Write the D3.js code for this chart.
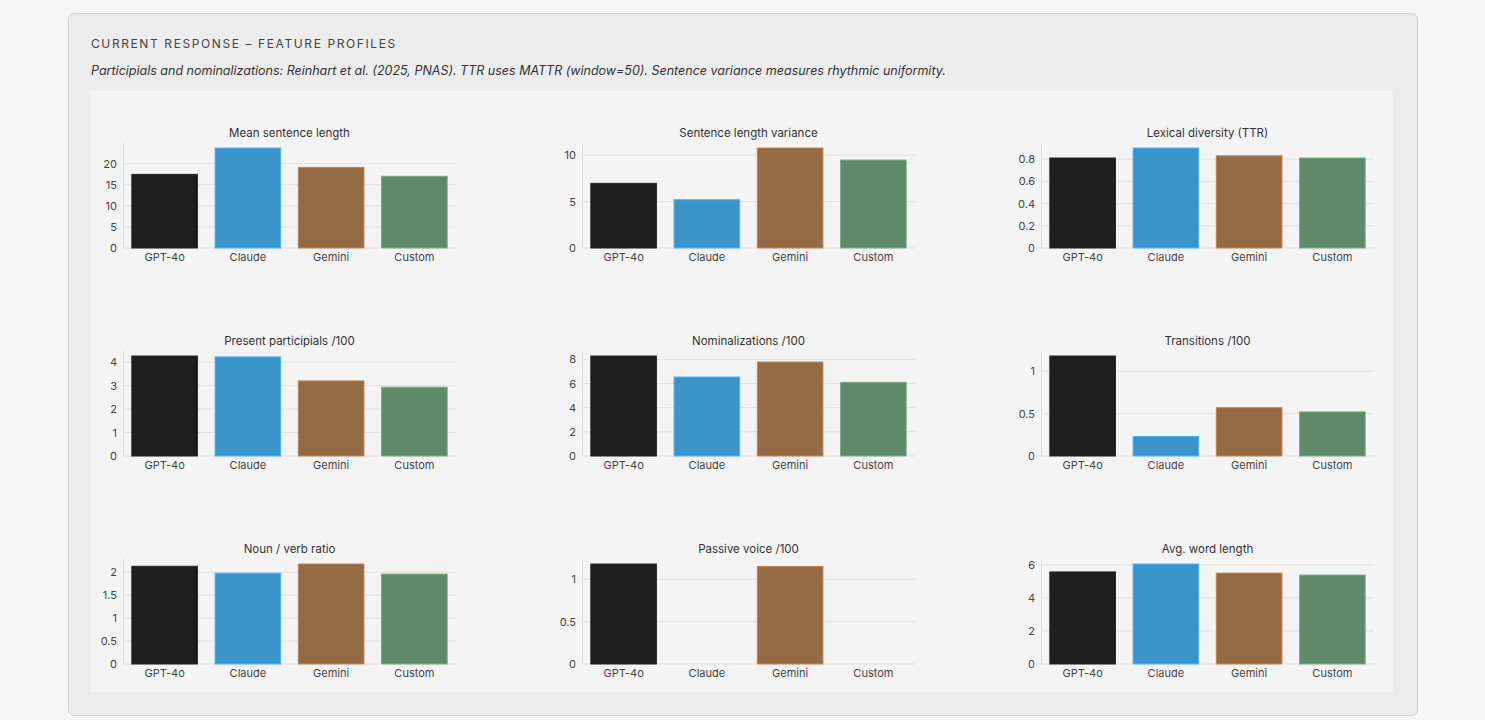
<!DOCTYPE html>
<html>
<head>
<meta charset="utf-8">
<script src="https://cdn.jsdelivr.net/npm/d3@7"></script>
<style>
  body { margin: 0; background: #f5f5f5; font-family: Inter, "Noto Sans", sans-serif; }
  svg text { font-family: Inter, "Noto Sans", sans-serif; }
</style>
</head>
<body>
<svg id="chart" width="1485" height="720"></svg>
<script>
const models = ["GPT-4o", "Claude", "Gemini", "Custom"];
const colors = ["#1e1e1e", "#3a93c9", "#966b43", "#5f8a69"];

const titles = [
  "Mean sentence length", "Sentence length variance", "Lexical diversity (TTR)",
  "Present participials /100", "Nominalizations /100", "Transitions /100",
  "Noun / verb ratio", "Passive voice /100", "Avg. word length"
];

const meanSentenceLength = [17.45, 23.7, 19.1, 17.0];
const sentenceVariance = [6.96, 5.2, 10.76, 9.46];
const lexicalDiversity = [0.81, 0.90, 0.83, 0.81];
const participials = [4.26, 4.22, 3.2, 2.93];
const nominalizations = [8.28, 6.54, 7.78, 6.1];
const transitions = [1.18, 0.23, 0.57, 0.52];
const nounVerb = [2.13, 1.98, 2.18, 1.96];
const passiveVoice = [1.18, 0, 1.15, 0];
const wordLength = [5.57, 6.05, 5.5, 5.38];

const series = [meanSentenceLength, sentenceVariance, lexicalDiversity,
  participials, nominalizations, transitions, nounVerb, passiveVoice, wordLength];

const tickSets = [
  [0, 5, 10, 15, 20], [0, 5, 10], [0, 0.2, 0.4, 0.6, 0.8],
  [0, 1, 2, 3, 4], [0, 2, 4, 6, 8], [0, 0.5, 1],
  [0, 0.5, 1, 1.5, 2], [0, 0.5, 1], [0, 2, 4, 6]
];

const svg = d3.select("#chart");

// outer card
svg.append("rect").attr("x", 68.5).attr("y", 13.5).attr("width", 1349).attr("height", 702)
  .attr("rx", 6).attr("fill", "#ececec").attr("stroke", "#d2d2d2");
svg.append("text").attr("x", 91).attr("y", 48).attr("font-size", 12)
  .attr("letter-spacing", "1.6px").attr("fill", "#444")
  .text("CURRENT RESPONSE \u2013 FEATURE PROFILES");
svg.append("text").attr("x", 91).attr("y", 75).attr("font-size", 12.5)
  .attr("font-style", "italic").attr("fill", "#333")
  .text("Participials and nominalizations: Reinhart et al. (2025, PNAS). TTR uses MATTR (window=50). Sentence variance measures rhythmic uniformity.");
svg.append("rect").attr("x", 91).attr("y", 91).attr("width", 1302).attr("height", 601)
  .attr("fill", "#f4f4f4");

const colStep = 459, rowStep = 208;
const plotW = 333, plotH = 105;

series.forEach((vals, i) => {
  const col = i % 3, row = Math.floor(i / 3);
  const x0 = 123 + col * colStep, base = 248 + row * rowStep;
  const g = svg.append("g").attr("transform", `translate(${x0},${base - plotH})`);

  const x = d3.scaleBand().domain(models).range([0, plotW]).paddingInner(0.2).paddingOuter(0.1);
  const y = d3.scaleLinear().domain([0, d3.max(vals) * 1.05]).range([plotH, 0]);

  g.append("g").selectAll("line").data(tickSets[i]).join("line")
    .attr("x1", 0).attr("x2", plotW).attr("y1", d => y(d)).attr("y2", d => y(d))
    .attr("stroke", "#e1e1e1");
  g.append("line").attr("x1", 0.5).attr("x2", 0.5).attr("y1", 0).attr("y2", plotH)
    .attr("stroke", "#dcdcdc");

  g.selectAll("rect.bar").data(vals).join("rect").attr("class", "bar")
    .attr("x", (d, j) => x(models[j]) + 0.5).attr("width", x.bandwidth() - 1)
    .attr("y", d => y(d)).attr("height", d => plotH - y(d))
    .attr("fill", (d, j) => colors[j]).attr("stroke", (d, j) => d3.color(colors[j]).brighter(0.6))
    .attr("stroke-width", 1).attr("opacity", d => d > 0 ? 1 : 0);

  const ya = g.append("g").call(d3.axisLeft(y).tickValues(tickSets[i]).tickSize(0).tickPadding(6)
    .tickFormat(d3.format("~g")));
  ya.select(".domain").remove();
  ya.selectAll("text").attr("font-size", 11).attr("fill", "#444");

  const xa = g.append("g").attr("transform", `translate(0,${plotH})`)
    .call(d3.axisBottom(x).tickSize(0).tickPadding(5));
  xa.select(".domain").remove();
  xa.selectAll("text").attr("font-size", 11).attr("fill", "#444");

  g.append("text").attr("x", plotW / 2).attr("y", -6).attr("text-anchor", "middle")
    .attr("font-size", 11.5).attr("fill", "#333").text(titles[i]);
});
</script>
</body>
</html>
